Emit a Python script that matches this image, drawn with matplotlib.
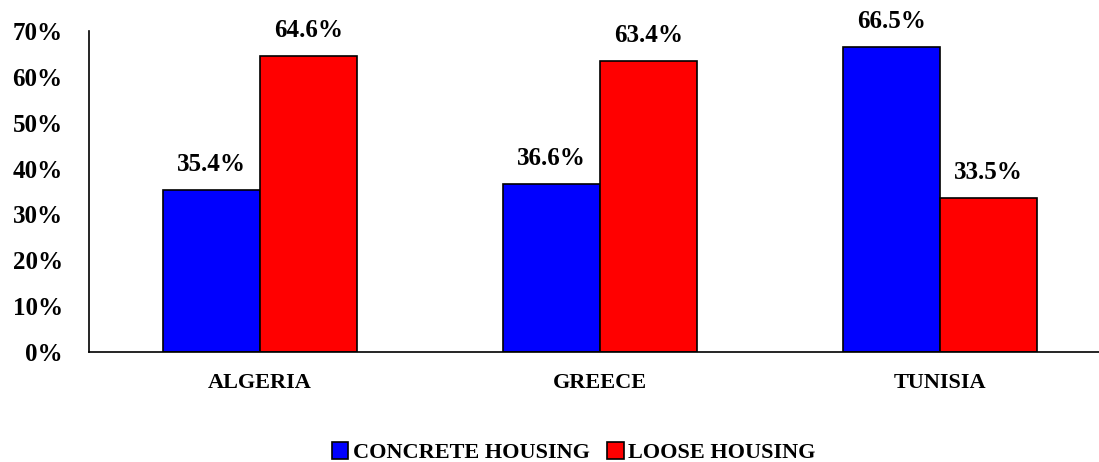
import matplotlib
matplotlib.use("Agg")
import matplotlib.pyplot as plt
import numpy as np
from matplotlib.ticker import FuncFormatter

# ---------------- Data ------------------------------------------------
countries = ["ALGERIA", "GREECE", "TUNISIA"]
concrete = [35.4, 36.6, 66.5]
loose = [64.6, 63.4, 33.5]
series_names = ["CONCRETE HOUSING", "LOOSE HOUSING"]

plt.rcParams["font.family"] = ["Liberation Serif", "DejaVu Serif"]
plt.rcParams["font.weight"] = "bold"

fig = plt.figure(figsize=(10.99, 4.62), dpi=100)
ax = fig.add_axes([0.081, 0.238, 0.919, 0.695])

x = np.arange(len(countries))
w = 0.286
b1 = ax.bar(x - w / 2, concrete, w, color="#0000ff", edgecolor="black",
            linewidth=1.2, label=series_names[0])
b2 = ax.bar(x + w / 2, loose, w, color="#ff0000", edgecolor="black",
            linewidth=1.2, label=series_names[1])

# value labels above each bar
for bars, vals in [(b1, concrete), (b2, loose)]:
    for rect, v in zip(bars, vals):
        ax.annotate(f"{v:.1f}%", (rect.get_x() + rect.get_width() / 2, v),
                    xytext=(0, 10), textcoords="offset points",
                    ha="center", va="bottom", fontsize=18, fontweight="bold")

ax.set_xlim(-0.503, 2.468)
ax.set_ylim(0, 70)
ax.set_yticks(range(0, 71, 10))
ax.yaxis.set_major_formatter(FuncFormatter(lambda v, _: f"{v:.0f}%"))
ax.set_xticks(x)
ax.set_xticklabels(countries, fontsize=16, fontweight="bold")
ax.tick_params(axis="y", length=0, labelsize=18, pad=19)
ax.tick_params(axis="x", length=0, pad=15)
for lab in ax.get_yticklabels():
    lab.set_fontweight("bold")

for s in ["top", "right"]:
    ax.spines[s].set_visible(False)
ax.spines["left"].set_linewidth(1.2)
ax.spines["bottom"].set_linewidth(1.2)

fig.legend(loc="center", bbox_to_anchor=(0.522, 0.02), ncol=2, frameon=False,
           prop={"size": 16, "weight": "bold"}, handlelength=0.75,
           handleheight=0.75, handletextpad=0.2, columnspacing=0.8)

fig.savefig("out.png", dpi=100)
